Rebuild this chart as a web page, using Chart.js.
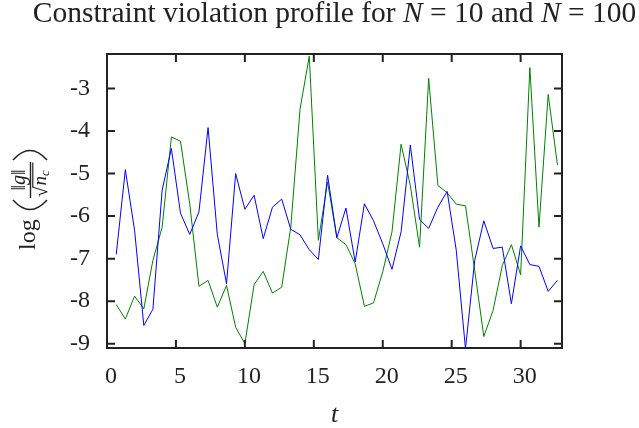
<!DOCTYPE html>
<html>
<head>
<meta charset="utf-8">
<script src="https://cdn.jsdelivr.net/npm/chart.js@4"></script>
<style>
  html, body { margin: 0; padding: 0; background: #fff; }
</style>
</head>
<body>
<canvas id="chart" width="639" height="428"></canvas>
<script>
// time points (t)
const tValues = [0.67, 1.33, 2.00, 2.67, 3.33, 4.00, 4.67, 5.33, 6.00, 6.67,
  7.33, 8.00, 8.67, 9.33, 10.00, 10.67, 11.33, 12.00, 12.67, 13.33,
  14.00, 14.67, 15.33, 16.00, 16.67, 17.33, 18.00, 18.67, 19.33, 20.00,
  20.67, 21.33, 22.00, 22.67, 23.33, 24.00, 24.67, 25.33, 26.00, 26.67,
  27.33, 28.00, 28.67, 29.33, 30.00, 30.67, 31.33, 32.00, 32.67];

// log(||g||/sqrt(nc)), blue series
const blueValues = [-6.90, -4.91, -6.33, -8.57, -8.19, -5.39, -4.41, -5.93, -6.43, -5.90,
  -3.92, -6.43, -7.59, -5.00, -5.84, -5.51, -6.53, -5.79, -5.60, -6.31,
  -6.44, -6.79, -7.02, -5.04, -6.51, -5.81, -7.08, -5.71, -6.11, -6.65,
  -7.25, -6.37, -4.33, -6.08, -6.29, -5.79, -5.42, -6.80, -9.12, -7.04,
  -6.11, -6.76, -6.73, -8.06, -6.70, -7.14, -7.18, -7.77, -7.51];

// green series
const greenValues = [-8.08, -8.42, -7.88, -8.18, -7.04, -6.26, -4.14, -4.24, -5.71, -7.65,
  -7.51, -8.14, -7.63, -8.61, -9.00, -7.61, -7.30, -7.81, -7.67, -6.26,
  -3.49, -2.24, -6.57, -5.20, -6.51, -6.67, -7.12, -8.12, -8.04, -7.31,
  -6.37, -4.31, -5.28, -6.73, -2.76, -5.28, -5.45, -5.72, -5.76, -7.28,
  -8.83, -8.22, -7.16, -6.67, -7.38, -2.51, -6.26, -3.14, -4.80];

const xTicks = [0, 5, 10, 15, 20, 25, 30];
const yTicks = [-9, -8, -7, -6, -5, -4, -3];

const titleParts = [
  ['Constraint violation profile for ', false],
  ['N', true],
  [' = 10 and ', false],
  ['N', true],
  [' = 100', false]
];

const SERIF = '"Liberation Serif", "DejaVu Serif", serif';
const INK = '#222';

function fontOf(italic, size) {
  return (italic ? 'italic ' : '') + size + 'px ' + SERIF;
}

// box round the plot with inward tick marks on all four sides
const framePlugin = {
  id: 'frame',
  afterDatasetsDraw(chart) {
    const { ctx, chartArea: a, scales } = chart;
    const len = 8;
    ctx.save();
    ctx.strokeStyle = INK;
    ctx.lineWidth = 2;
    ctx.beginPath();
    xTicks.forEach(v => {
      const x = scales.x.getPixelForValue(v);
      ctx.moveTo(x, a.bottom); ctx.lineTo(x, a.bottom - len);
      ctx.moveTo(x, a.top); ctx.lineTo(x, a.top + len);
    });
    yTicks.forEach(v => {
      const y = scales.y.getPixelForValue(v);
      ctx.moveTo(a.left, y); ctx.lineTo(a.left + len, y);
      ctx.moveTo(a.right, y); ctx.lineTo(a.right - len, y);
    });
    ctx.stroke();
    ctx.strokeRect(a.left, a.top, a.right - a.left, a.bottom - a.top);
    ctx.restore();
  }
};

// title, axis titles (math-ish, so drawn by hand)
const textPlugin = {
  id: 'texts',
  afterDraw(chart) {
    const { ctx, chartArea: a } = chart;
    const cx = (a.left + a.right) / 2;
    ctx.save();
    ctx.fillStyle = INK;
    ctx.strokeStyle = INK;
    ctx.textBaseline = 'alphabetic';
    ctx.textAlign = 'left';

    // title
    const tSize = 29.5;
    let w = 0;
    titleParts.forEach(([s, it]) => { ctx.font = fontOf(it, tSize); w += ctx.measureText(s).width; });
    let x = cx - w / 2;
    titleParts.forEach(([s, it]) => {
      ctx.font = fontOf(it, tSize);
      ctx.fillText(s, x, 22);
      x += ctx.measureText(s).width;
    });

    // x title
    ctx.font = fontOf(true, 26);
    ctx.textAlign = 'center';
    ctx.fillText('t', cx, 422);

    // y title: log( ||g|| / sqrt(n_c) )
    ctx.translate(35, (a.top + a.bottom) / 2 + 49);
    ctx.rotate(-Math.PI / 2);
    ctx.textAlign = 'left';
    ctx.font = fontOf(false, 24);
    ctx.fillText('log', 0, 0);
    // big thin parentheses
    ctx.lineWidth = 1.4;
    ctx.beginPath();
    ctx.moveTo(50, -22);
    ctx.quadraticCurveTo(31, -5, 50, 12);
    ctx.moveTo(90, -22);
    ctx.quadraticCurveTo(109, -5, 90, 12);
    ctx.stroke();
    ctx.fillRect(52, -5.2, 36, 1.4);
    // numerator
    const numParts = [['\u2016', false], ['g', true], ['\u2016', false]];
    let nw = 0;
    numParts.forEach(([s, it]) => { ctx.font = fontOf(it, 20); nw += ctx.measureText(s).width; });
    let nx = 70 - nw / 2;
    numParts.forEach(([s, it]) => {
      ctx.font = fontOf(it, 20);
      ctx.fillText(s, nx, -10);
      nx += ctx.measureText(s).width;
    });
    // denominator
    ctx.font = fontOf(false, 19);
    ctx.fillText('\u221A', 53, 12);
    const rw = ctx.measureText('\u221A').width;
    ctx.fillRect(53 + rw - 0.5, -2.8, 88 - (53 + rw), 1.2);
    ctx.font = fontOf(true, 19);
    ctx.fillText('n', 53 + rw + 1, 11);
    const nWidth = ctx.measureText('n').width;
    ctx.font = fontOf(true, 13);
    ctx.fillText('c', 53 + rw + 1 + nWidth, 14);
    ctx.restore();
  }
};

const ctx = document.getElementById('chart').getContext('2d');
new Chart(ctx, {
  type: 'line',
  data: {
    datasets: [{
      data: tValues.map((t, i) => ({ x: t, y: blueValues[i] })),
      borderColor: '#0000ff',
      borderWidth: 1,
      pointRadius: 0,
      fill: false,
      tension: 0
    }, {
      data: tValues.map((t, i) => ({ x: t, y: greenValues[i] })),
      borderColor: '#008000',
      borderWidth: 1,
      pointRadius: 0,
      fill: false,
      tension: 0
    }]
  },
  options: {
    responsive: false,
    animation: false,
    layout: { padding: { top: 54, right: 77, left: 0, bottom: 0 } },
    plugins: { legend: { display: false }, tooltip: { enabled: false } },
    scales: {
      x: {
        type: 'linear',
        min: 0,
        max: 33,
        afterFit: s => { s.height = 80; },
        afterBuildTicks: s => { s.ticks = xTicks.map(v => ({ value: v })); },
        grid: { display: false, drawTicks: false },
        border: { display: false },
        ticks: {
          padding: 14,
          labelOffset: 4,
          maxRotation: 0,
          color: INK,
          font: { family: SERIF, size: 24 }
        }
      },
      y: {
        type: 'linear',
        min: -9.1,
        max: -2.19,
        afterFit: s => { s.width = 107; },
        afterBuildTicks: s => { s.ticks = yTicks.map(v => ({ value: v })); },
        grid: { display: false, drawTicks: false },
        border: { display: false },
        ticks: {
          padding: 17,
          color: INK,
          font: { family: SERIF, size: 24 }
        }
      }
    }
  },
  plugins: [framePlugin, textPlugin]
});
</script>
</body>
</html>
